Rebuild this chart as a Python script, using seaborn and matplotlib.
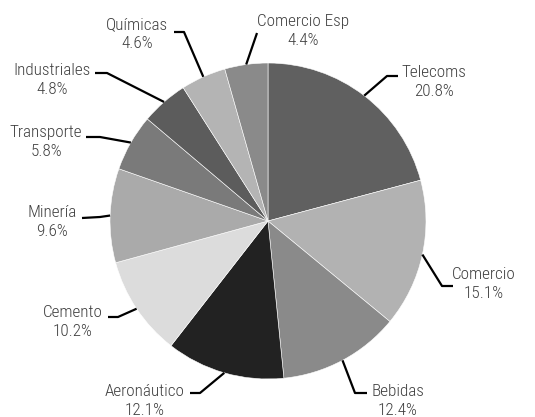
import numpy as np
import seaborn as sns
import matplotlib.pyplot as plt
from matplotlib import font_manager

sectors = ["Telecoms", "Comercio", "Bebidas", "Aeronáutico", "Cemento",
           "Minería", "Transporte", "Industriales", "Químicas", "Comercio Esp"]
shares = [20.8, 15.1, 12.4, 12.1, 10.2, 9.6, 5.8, 4.8, 4.6, 4.4]
grays = ["#606060", "#b2b2b2", "#8a8a8a", "#222222", "#dcdcdc",
         "#aaaaaa", "#7a7a7a", "#5c5c5c", "#b4b4b4", "#8a8a8a"]

# label layout in pixels (text centre, elbow, line end)
text_px = [(434, 82), (484, 284), (398, 401), (145, 401), (73, 322),
           (52, 222), (46, 142), (52, 80), (137, 34), (303, 31)]
elbow_px = [(387, 76), (442, 286), (355, 393), (200, 393), (118, 317),
            (100, 217), (100, 137), (107, 73), (184, 32), (257, 33)]
end_px = [(398, 76), (453, 286), (367, 393), (190, 393), (108, 317),
          (82, 218), (86, 137), (95, 73), (174, 32), (257, 33)]

CX, CY, R = 268, 221, 158
W, H = 535, 417


def to_data(p):
    return (p[0] - CX) / R, (CY - p[1]) / R


sns.set_theme(style="white")
names = {f.name for f in font_manager.fontManager.ttflist}
fam = [f for f in ["Roboto Condensed", "Roboto", "DejaVu Sans"] if f in names]
plt.rcParams['font.family'] = fam

fig = plt.figure(figsize=(W / 100, H / 100), dpi=100)
ax = fig.add_axes([0, 0, 1, 1])

wedges, _ = ax.pie(shares, colors=grays, startangle=90, counterclock=False,
                   radius=1, wedgeprops={"edgecolor": "white", "linewidth": 0.4})

for w, name, val, t, e, n in zip(wedges, sectors, shares, text_px, elbow_px, end_px):
    mid = np.deg2rad((w.theta1 + w.theta2) / 2)
    start = (np.cos(mid), np.sin(mid))
    ex, ey = to_data(e)
    nx, ny = to_data(n)
    ax.plot([start[0], ex, nx], [start[1], ey, ny], color="black", lw=1.6,
            solid_capstyle="butt")
    tx, ty = to_data(t)
    ax.text(tx, ty, f"{name}\n{val:.1f}%", ha="center", va="center",
            multialignment="center", fontsize=12.3, color="#404040",
            fontweight="light", linespacing=1.3)

ax.set_xlim(-CX / R, (W - CX) / R)
ax.set_ylim((CY - H) / R, CY / R)
ax.set_aspect("auto")
ax.axis("off")

fig.savefig("out.png", dpi=100)
